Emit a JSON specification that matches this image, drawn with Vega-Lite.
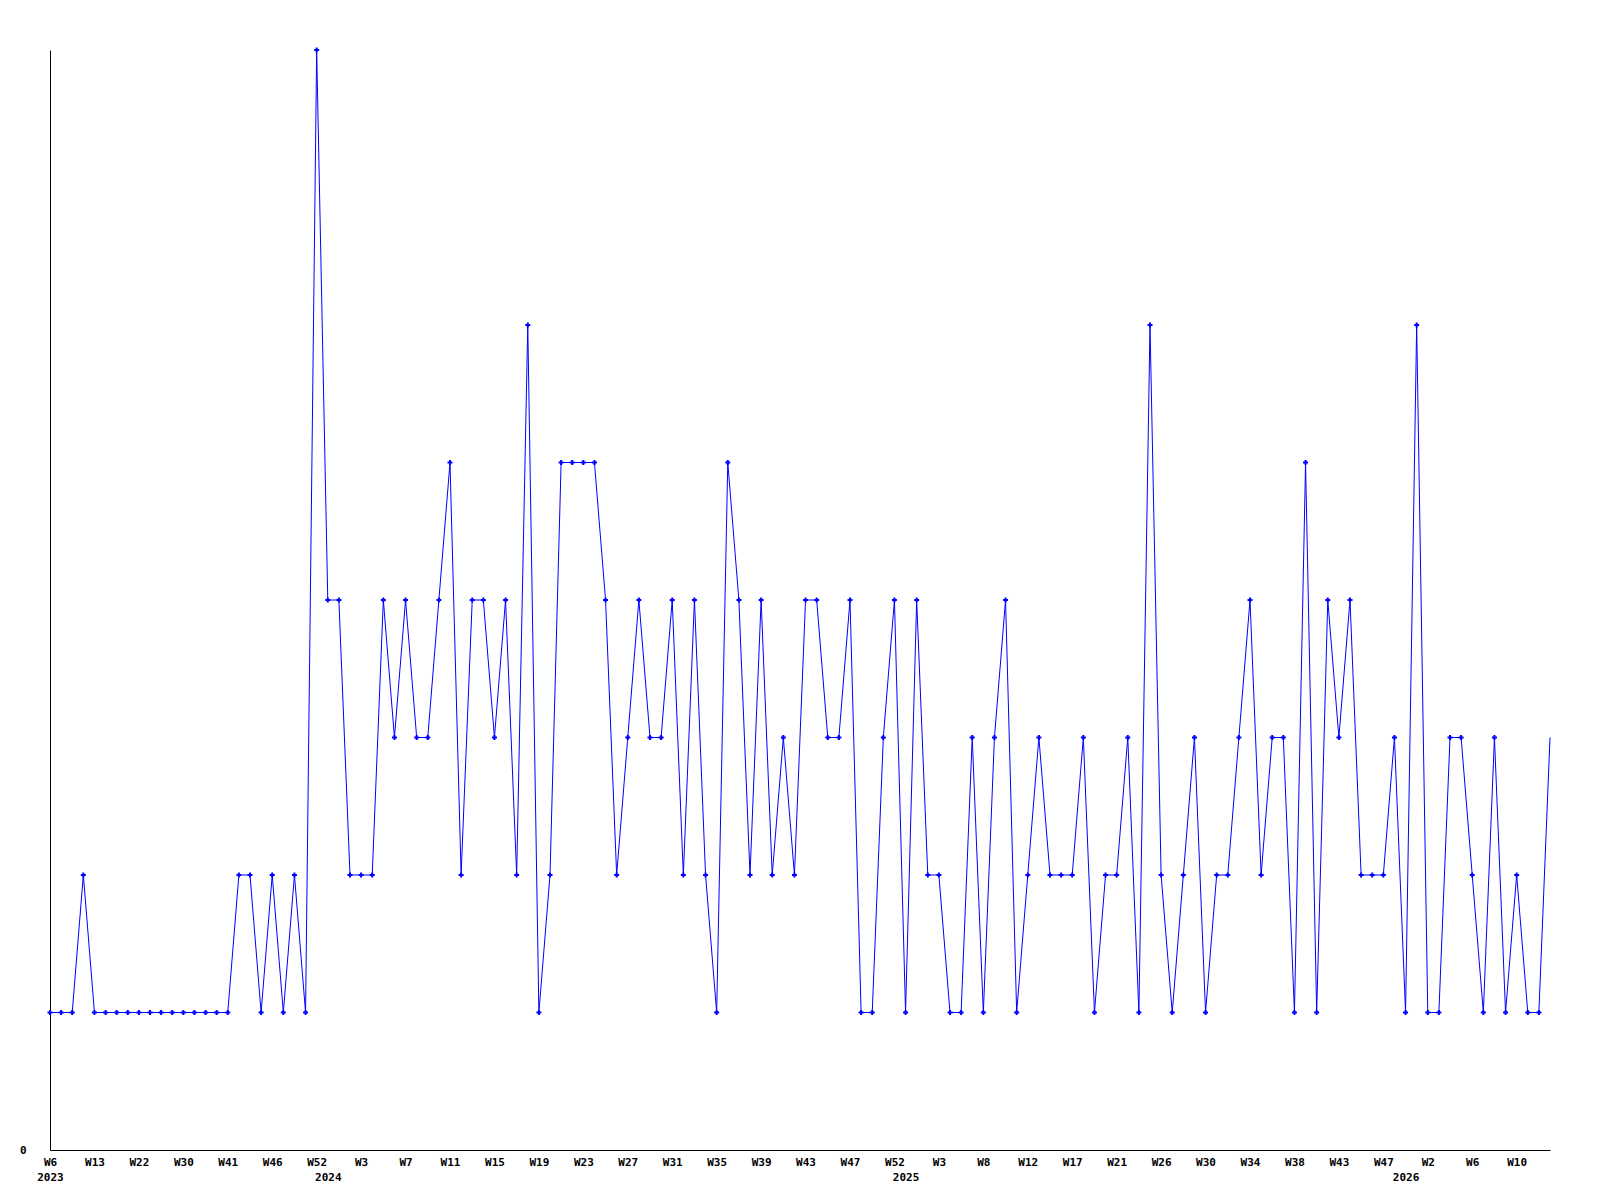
{
  "$schema": "https://vega.github.io/schema/vega-lite/v6.json",
  "width": 1500,
  "height": 1100,
  "autosize": {"type": "none"},
  "padding": {"left": 50, "top": 50, "right": 50, "bottom": 50},
  "background": "white",
  "config": {
    "view": {"stroke": null},
    "axis": {
      "labelFont": "DejaVu Sans Mono",
      "labelFontWeight": "bold",
      "labelFontSize": 11,
      "labelColor": "black",
      "domainColor": "black",
      "domainWidth": 1,
      "grid": false,
      "ticks": false,
      "title": null
    }
  },
  "data": {
    "values": [
      {"i":0,"v":1},{"i":1,"v":1},{"i":2,"v":1},{"i":3,"v":2},{"i":4,"v":1},{"i":5,"v":1},{"i":6,"v":1},{"i":7,"v":1},{"i":8,"v":1},{"i":9,"v":1},
      {"i":10,"v":1},{"i":11,"v":1},{"i":12,"v":1},{"i":13,"v":1},{"i":14,"v":1},{"i":15,"v":1},{"i":16,"v":1},{"i":17,"v":2},{"i":18,"v":2},{"i":19,"v":1},
      {"i":20,"v":2},{"i":21,"v":1},{"i":22,"v":2},{"i":23,"v":1},{"i":24,"v":8},{"i":25,"v":4},{"i":26,"v":4},{"i":27,"v":2},{"i":28,"v":2},{"i":29,"v":2},
      {"i":30,"v":4},{"i":31,"v":3},{"i":32,"v":4},{"i":33,"v":3},{"i":34,"v":3},{"i":35,"v":4},{"i":36,"v":5},{"i":37,"v":2},{"i":38,"v":4},{"i":39,"v":4},
      {"i":40,"v":3},{"i":41,"v":4},{"i":42,"v":2},{"i":43,"v":6},{"i":44,"v":1},{"i":45,"v":2},{"i":46,"v":5},{"i":47,"v":5},{"i":48,"v":5},{"i":49,"v":5},
      {"i":50,"v":4},{"i":51,"v":2},{"i":52,"v":3},{"i":53,"v":4},{"i":54,"v":3},{"i":55,"v":3},{"i":56,"v":4},{"i":57,"v":2},{"i":58,"v":4},{"i":59,"v":2},
      {"i":60,"v":1},{"i":61,"v":5},{"i":62,"v":4},{"i":63,"v":2},{"i":64,"v":4},{"i":65,"v":2},{"i":66,"v":3},{"i":67,"v":2},{"i":68,"v":4},{"i":69,"v":4},
      {"i":70,"v":3},{"i":71,"v":3},{"i":72,"v":4},{"i":73,"v":1},{"i":74,"v":1},{"i":75,"v":3},{"i":76,"v":4},{"i":77,"v":1},{"i":78,"v":4},{"i":79,"v":2},
      {"i":80,"v":2},{"i":81,"v":1},{"i":82,"v":1},{"i":83,"v":3},{"i":84,"v":1},{"i":85,"v":3},{"i":86,"v":4},{"i":87,"v":1},{"i":88,"v":2},{"i":89,"v":3},
      {"i":90,"v":2},{"i":91,"v":2},{"i":92,"v":2},{"i":93,"v":3},{"i":94,"v":1},{"i":95,"v":2},{"i":96,"v":2},{"i":97,"v":3},{"i":98,"v":1},{"i":99,"v":6},
      {"i":100,"v":2},{"i":101,"v":1},{"i":102,"v":2},{"i":103,"v":3},{"i":104,"v":1},{"i":105,"v":2},{"i":106,"v":2},{"i":107,"v":3},{"i":108,"v":4},{"i":109,"v":2},
      {"i":110,"v":3},{"i":111,"v":3},{"i":112,"v":1},{"i":113,"v":5},{"i":114,"v":1},{"i":115,"v":4},{"i":116,"v":3},{"i":117,"v":4},{"i":118,"v":2},{"i":119,"v":2},
      {"i":120,"v":2},{"i":121,"v":3},{"i":122,"v":1},{"i":123,"v":6},{"i":124,"v":1},{"i":125,"v":1},{"i":126,"v":3},{"i":127,"v":3},{"i":128,"v":2},{"i":129,"v":1},
      {"i":130,"v":3},{"i":131,"v":1},{"i":132,"v":2},{"i":133,"v":1},{"i":134,"v":1},{"i":135,"v":3}
    ]
  },
  "layer": [
    {
      "mark": {"type": "line", "color": "#0000ff", "strokeWidth": 1},
      "encoding": {
        "x": {
          "field": "i", "type": "quantitative",
          "scale": {"domain": [0, 135], "nice": false, "zero": false},
          "axis": {
            "orient": "bottom",
            "values": [0,4,8,12,16,20,24,28,32,36,40,44,48,52,56,60,64,68,72,76,80,84,88,92,96,100,104,108,112,116,120,124,128,132],
            "labelExpr": "['W6','W13','W22','W30','W41','W46','W52','W3','W7','W11','W15','W19','W23','W27','W31','W35','W39','W43','W47','W52','W3','W8','W12','W17','W21','W26','W30','W34','W38','W43','W47','W2','W6','W10'][round(datum.value/4)]",
            "labelPadding": 6,
            "labelFlush": false,
            "labelOverlap": false
          }
        },
        "y": {
          "field": "v", "type": "quantitative",
          "scale": {"domain": [0, 8], "nice": false, "zero": true},
          "axis": {"values": [0], "format": "d", "labelPadding": 24, "labelFlush": false}
        }
      }
    },
    {
      "transform": [{"filter": "datum.i < 135"}],
      "mark": {"type": "point", "shape": "cross", "filled": true, "size": 25, "color": "#0000ff", "opacity": 1},
      "encoding": {
        "x": {
          "field": "i", "type": "quantitative",
          "scale": {"domain": [0, 135], "nice": false, "zero": false},
          "axis": {
            "orient": "bottom",
            "values": [0, 25, 77, 122],
            "labelExpr": "datum.value == 0 ? '2023' : datum.value == 25 ? '2024' : datum.value == 77 ? '2025' : '2026'",
            "domain": false,
            "labelPadding": 21,
            "labelDx": 3,
            "labelFlush": false,
            "labelOverlap": false
          }
        },
        "y": {"field": "v", "type": "quantitative"}
      }
    }
  ],
  "resolve": {"axis": {"x": "independent"}}
}
